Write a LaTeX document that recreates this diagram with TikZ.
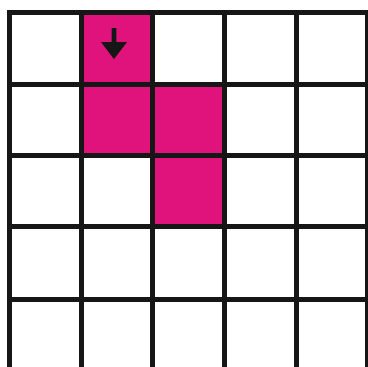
\documentclass[tikz,border=0pt]{standalone}
\definecolor{cellpink}{RGB}{224,18,124}
\definecolor{gridblack}{RGB}{22,22,22}
\begin{document}
\begin{tikzpicture}[x=1pt,y=-1pt,
  gridline/.style={draw=gridblack,line width=5pt},
  filled/.style={fill=cellpink}]
\useasboundingbox (0,0) rectangle (368,367);
\clip (0,0) rectangle (368,367);
\fill[white] (0,0) rectangle (368,367);
% coordinates of grid lines
\def\xs{{9.5,81.5,153,224.5,296.5,368}}
\def\ys{{12.5,84.5,155.5,226.5,299,370.5}}
% pink cells
\fill[filled] (81.5,12.5) rectangle (153,84.5);
\fill[filled] (81.5,84.5) rectangle (224.5,155.5);
\fill[filled] (153,155.5) rectangle (224.5,226.5);
% grid
\foreach \x in {9.5,81.5,153,224.5,296.5,368}
  \draw[gridline] (\x,10) -- (\x,373);
\foreach \y in {12.5,84.5,155.5,226.5,299,370.5}
  \draw[gridline] (7,\y) -- (371,\y);
% arrow
\fill[gridblack] (111.6,28) -- (116.4,28) -- (116.4,42) -- (127,42) -- (114,59) -- (101,42) -- (111.6,42) -- cycle;
\end{tikzpicture}
\end{document}
